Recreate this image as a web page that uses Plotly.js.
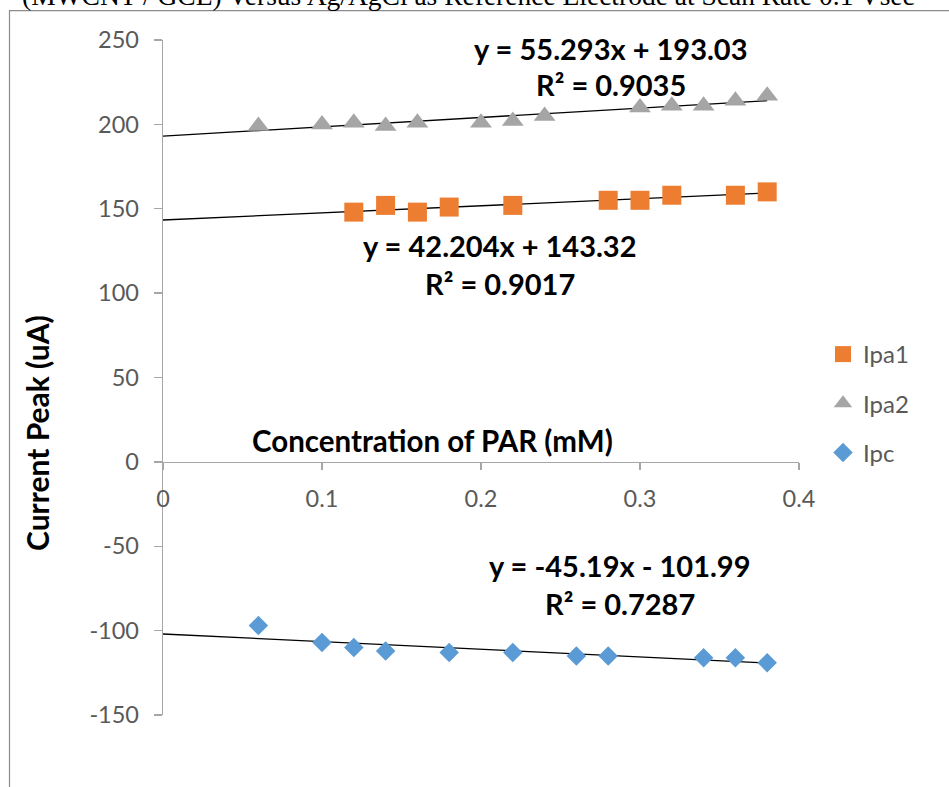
<!DOCTYPE html>
<html>
<head>
<meta charset="utf-8">
<script src="https://cdn.plot.ly/plotly-3.0.1.min.js"></script>
<style>
html,body{margin:0;padding:0;background:#fff;}
#chart{width:949px;height:787px;}
</style>
</head>
<body>
<div id="chart"></div>
<script>
// ---- data ----
const xIpa1 = [0.12, 0.14, 0.16, 0.18, 0.22, 0.28, 0.30, 0.32, 0.36, 0.38];
const yIpa1 = [148, 152, 148, 151, 152, 155, 155, 158, 158, 160];

const xIpa2 = [0.06, 0.10, 0.12, 0.14, 0.16, 0.20, 0.22, 0.24, 0.30, 0.32, 0.34, 0.36, 0.38];
const yIpa2 = [199, 200, 201, 199, 201, 201, 202, 205, 210, 211, 211, 214, 217];

const xIpc = [0.06, 0.10, 0.12, 0.14, 0.18, 0.22, 0.26, 0.28, 0.34, 0.36, 0.38];
const yIpc = [-97, -107, -110, -112, -113, -113, -115, -115, -116, -116, -119];

const seriesNames = ["Ipa1", "Ipa2", "Ipc"];
const trendSlope = [42.204, 55.293, -45.19];
const trendIntercept = [143.32, 193.03, -101.99];
const trendStart = [0, 0, 0];
const trendEquations = ["y = 42.204x + 143.32", "y = 55.293x + 193.03", "y = -45.19x - 101.99"];
const trendR2 = ["R² = 0.9017", "R² = 0.9035", "R² = 0.7287"];

const xTicks = [0, 0.1, 0.2, 0.3, 0.4];
const yTicks = [-150, -100, -50, 0, 50, 100, 150, 200, 250];

const chartTitle = "(MWCNT / GCE) Versus Ag/AgCl as Reference Electrode at Scan Rate 0.1 Vsec";
const xTitle = "Concentration of PAR (mM)";
const yTitle = "Current Peak (uA)";

// ---- layout geometry ----
const W = 949, H = 787;
const M = {l: 163, r: 150, t: 40, b: 72};
const PW = W - M.l - M.r, PH = H - M.t - M.b;
const px = x => (x - M.l) / PW;
const py = y => (H - M.b - y) / PH;

const xs = [xIpa1, xIpa2, xIpc];
const ys = [yIpa1, yIpa2, yIpc];
const colors = ["#ED7D31", "#A5A5A5", "#5B9BD5"];
const symbols = ["square", "triangle-up", "diamond"];
const sizes = [19, 19, 15];

const traces = [];
for (let i = 0; i < 3; i++) {
  const xEnd = Math.max(...xs[i]);
  const tx = [trendStart[i], xEnd];
  const ty = tx.map(v => trendSlope[i] * v + trendIntercept[i]);
  traces.push({
    x: tx, y: ty, mode: "lines", type: "scatter",
    line: {color: "#000000", width: 1.3},
    showlegend: false, hoverinfo: "skip", cliponaxis: false
  });
}
for (let i = 0; i < 3; i++) {
  traces.push({
    x: xs[i], y: ys[i], name: seriesNames[i], mode: "markers", type: "scatter",
    legendgroup: seriesNames[i],
    marker: {symbol: symbols[i], size: sizes[i], color: colors[i], line: {width: 0}},
    cliponaxis: false
  });
}

const eqFont = {family: "Lato, 'Open Sans', sans-serif", size: 29, color: "#000000"};
const eqPos = [[500, 245, 283], [611, 48, 84], [620, 565, 603]];
const annotations = [];
for (let i = 0; i < 3; i++) {
  annotations.push({xref: "paper", yref: "paper", x: px(eqPos[i][0]), y: py(eqPos[i][1]),
    text: "<b>" + trendEquations[i] + "</b>", showarrow: false, font: eqFont, xanchor: "center", yanchor: "middle"});
  annotations.push({xref: "paper", yref: "paper", x: px(eqPos[i][0]), y: py(eqPos[i][2]),
    text: "<b>" + trendR2[i] + "</b>", showarrow: false, font: eqFont, xanchor: "center", yanchor: "middle"});
}
annotations.push({xref: "paper", yref: "paper", x: px(432), y: py(440),
  text: "<b>" + xTitle + "</b>", showarrow: false,
  font: {family: "Lato, sans-serif", size: 29.5, color: "#000"}, xanchor: "center", yanchor: "middle"});
annotations.push({xref: "paper", yref: "paper", x: px(37), y: py(433),
  text: "<b>" + yTitle + "</b>", showarrow: false, textangle: -90,
  font: {family: "Lato, sans-serif", size: 30, color: "#000"}, xanchor: "center", yanchor: "middle"});
annotations.push({xref: "paper", yref: "paper", x: px(468), y: py(-4),
  text: chartTitle, showarrow: false,
  font: {family: "'Liberation Serif', 'Times New Roman', serif", size: 27.5, color: "#000"}, xanchor: "center", yanchor: "middle"});

const tickFont = {family: "Lato, sans-serif", size: 23.5, color: "#595959"};

const layout = {
  width: W, height: H,
  margin: M,
  paper_bgcolor: "#ffffff", plot_bgcolor: "#ffffff",
  showlegend: true,
  legend: {x: px(823), y: py(332), xanchor: "left", yanchor: "top",
    font: {family: "Lato, sans-serif", size: 24, color: "#595959"},
    tracegroupgap: 15, itemwidth: 30, bgcolor: "rgba(0,0,0,0)"},
  xaxis: {range: [0, 0.4], tickvals: xTicks, ticktext: xTicks.map(v => String(v)),
    anchor: "free", position: 150 / 400,
    showgrid: false, zeroline: false, showline: true, linecolor: "#A6A6A6", linewidth: 1.3,
    ticks: "outside", ticklen: 7, tickcolor: "#A6A6A6", tickwidth: 1.3,
    tickfont: tickFont, ticklabelstandoff: 9},
  yaxis: {range: [-150, 250], tickvals: yTicks, ticktext: yTicks.map(v => String(v)),
    showgrid: false, zeroline: false, showline: true, linecolor: "#A6A6A6", linewidth: 1.3,
    ticks: "outside", ticklen: 8, tickcolor: "#A6A6A6", tickwidth: 1.3,
    tickfont: tickFont, ticklabelstandoff: 10},
  shapes: [{type: "rect", xref: "paper", yref: "paper",
    x0: px(9.5), x1: px(1000), y0: py(800), y1: py(10.7),
    line: {color: "#8C8C8C", width: 1.2}, fillcolor: "rgba(0,0,0,0)", layer: "below"}],
  annotations: annotations
};

Plotly.newPlot("chart", traces, layout, {staticPlot: true, displayModeBar: false});
</script>
</body>
</html>
